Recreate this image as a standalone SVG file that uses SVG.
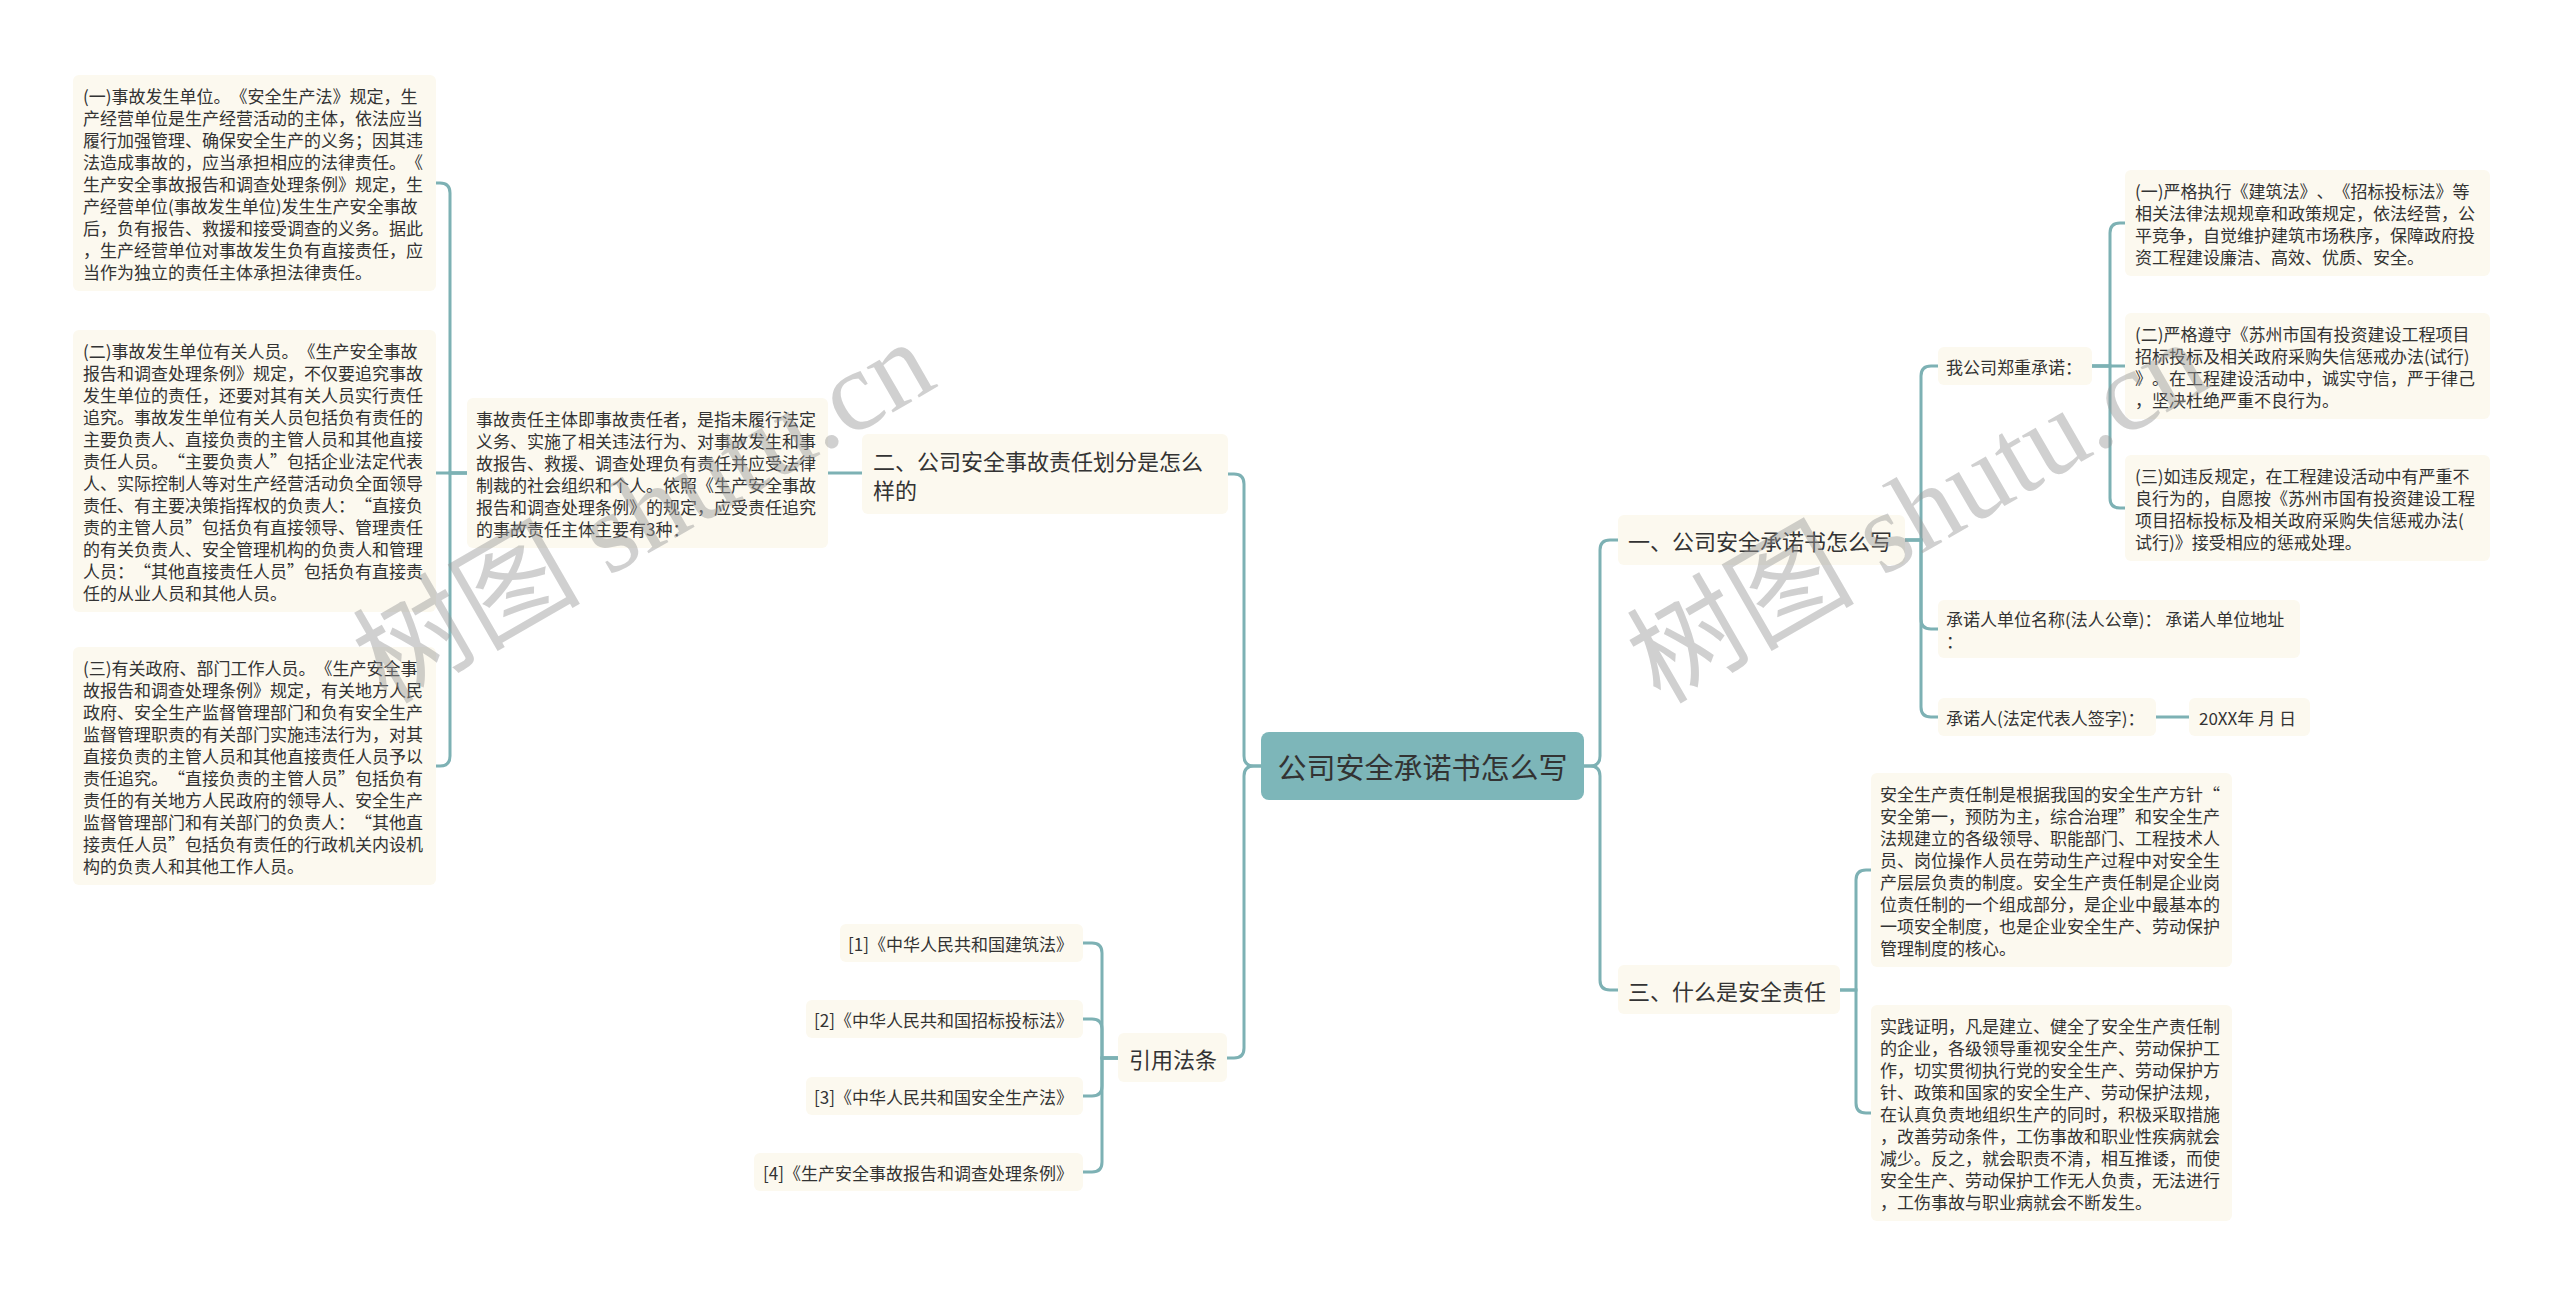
<svg xmlns="http://www.w3.org/2000/svg" width="2560" height="1295" viewBox="0 0 2560 1295">
<style>
.box{fill:#fcf9ef}
.t{font-family:"Noto Sans CJK SC","Noto Sans",sans-serif;fill:#333;dominant-baseline:central;text-spacing-trim:space-all;font-kerning:none}
.s17{font-size:17px}
.s22{font-size:22px}
.conn path{fill:none;stroke:#7db1b4;stroke-width:3;stroke-linecap:round}
.wm{font-family:"Liberation Serif","Noto Sans CJK SC",serif;font-size:114px;fill:#969696;fill-opacity:0.45}
</style>
<rect width="2560" height="1295" fill="#fff"/>
<g class="conn">
<path d="M1261,766 H1254 Q1244,766 1244,756 V484 Q1244,474 1234,474 H1228"/>
<path d="M1261,766 H1254 Q1244,766 1244,776 V1048 Q1244,1058 1234,1058 H1227"/>
<path d="M1584,766 H1590 Q1600,766 1600,756 V550 Q1600,540 1610,540 H1618"/>
<path d="M1584,766 H1590 Q1600,766 1600,776 V980 Q1600,990 1610,990 H1618"/>
<path d="M828,473 H862"/>
<path d="M467,473 H450 V193 Q450,183 440,183 H436"/>
<path d="M467,473 H436"/>
<path d="M467,473 H450 V756 Q450,766 440,766 H436"/>
<path d="M1118,1058 H1102 V953 Q1102,943 1092,943 H1083"/>
<path d="M1118,1058 H1102 V1029 Q1102,1019 1092,1019 H1083"/>
<path d="M1118,1058 H1102 V1086 Q1102,1096 1092,1096 H1083"/>
<path d="M1118,1058 H1102 V1162 Q1102,1172 1092,1172 H1083"/>
<path d="M1905,540 H1921 V376 Q1921,366 1931,366 H1938"/>
<path d="M1905,540 H1921 V619 Q1921,629 1931,629 H1938"/>
<path d="M1905,540 H1921 V707 Q1921,717 1931,717 H1938"/>
<path d="M2092,366 H2110 V233 Q2110,223 2120,223 H2125"/>
<path d="M2092,366 H2125"/>
<path d="M2092,366 H2110 V498 Q2110,508 2120,508 H2125"/>
<path d="M2156,717 H2189"/>
<path d="M1840,990 H1856 V880 Q1856,870 1866,870 H1871"/>
<path d="M1840,990 H1856 V1103 Q1856,1113 1866,1113 H1871"/>
</g>
<g id="center">
<rect x="1261" y="732" width="323" height="68" rx="8" fill="#7db6b9"/>
<text class="t" x="1422.5" y="766" font-size="29" text-anchor="middle" fill="#2a2a2a">公司安全承诺书怎么写</text>
</g>
<g id="n2">
<rect class="box" x="862" y="434" width="366" height="80" rx="6"/>
<text class="t s22"><tspan x="873" y="459.5">二、公司安全事故责任划分是怎么</tspan><tspan x="873" y="488.5">样的</tspan></text>
</g>
<g id="n2-desc">
<rect class="box" x="467" y="398" width="361" height="150" rx="6"/>
<text class="t s17"><tspan x="476" y="418">事故责任主体即事故责任者，是指未履行法定</tspan><tspan x="476" y="440">义务、实施了相关违法行为、对事故发生和事</tspan><tspan x="476" y="462">故报告、救援、调查处理负有责任并应受法律</tspan><tspan x="476" y="484">制裁的社会组织和个人。依照《生产安全事故</tspan><tspan x="476" y="506">报告和调查处理条例》的规定，应受责任追究</tspan><tspan x="476" y="528">的事故责任主体主要有3种：</tspan></text>
</g>
<g id="l1">
<rect class="box" x="73" y="75" width="363" height="216" rx="6"/>
<text class="t s17"><tspan x="83" y="95">(一)事故发生单位。《安全生产法》规定，生</tspan><tspan x="83" y="117">产经营单位是生产经营活动的主体，依法应当</tspan><tspan x="83" y="139">履行加强管理、确保安全生产的义务；因其违</tspan><tspan x="83" y="161">法造成事故的，应当承担相应的法律责任。《</tspan><tspan x="83" y="183">生产安全事故报告和调查处理条例》规定，生</tspan><tspan x="83" y="205">产经营单位(事故发生单位)发生生产安全事故</tspan><tspan x="83" y="227">后，负有报告、救援和接受调查的义务。据此</tspan><tspan x="83" y="249">，生产经营单位对事故发生负有直接责任，应</tspan><tspan x="83" y="271">当作为独立的责任主体承担法律责任。</tspan></text>
</g>
<g id="l2">
<rect class="box" x="73" y="330" width="363" height="282" rx="6"/>
<text class="t s17"><tspan x="83" y="350">(二)事故发生单位有关人员。《生产安全事故</tspan><tspan x="83" y="372">报告和调查处理条例》规定，不仅要追究事故</tspan><tspan x="83" y="394">发生单位的责任，还要对其有关人员实行责任</tspan><tspan x="83" y="416">追究。事故发生单位有关人员包括负有责任的</tspan><tspan x="83" y="438">主要负责人、直接负责的主管人员和其他直接</tspan><tspan x="83" y="460">责任人员。“主要负责人”包括企业法定代表</tspan><tspan x="83" y="482">人、实际控制人等对生产经营活动负全面领导</tspan><tspan x="83" y="504">责任、有主要决策指挥权的负责人：“直接负</tspan><tspan x="83" y="526">责的主管人员”包括负有直接领导、管理责任</tspan><tspan x="83" y="548">的有关负责人、安全管理机构的负责人和管理</tspan><tspan x="83" y="570">人员：“其他直接责任人员”包括负有直接责</tspan><tspan x="83" y="592">任的从业人员和其他人员。</tspan></text>
</g>
<g id="l3">
<rect class="box" x="73" y="647" width="363" height="238" rx="6"/>
<text class="t s17"><tspan x="83" y="667">(三)有关政府、部门工作人员。《生产安全事</tspan><tspan x="83" y="689">故报告和调查处理条例》规定，有关地方人民</tspan><tspan x="83" y="711">政府、安全生产监督管理部门和负有安全生产</tspan><tspan x="83" y="733">监督管理职责的有关部门实施违法行为，对其</tspan><tspan x="83" y="755">直接负责的主管人员和其他直接责任人员予以</tspan><tspan x="83" y="777">责任追究。“直接负责的主管人员”包括负有</tspan><tspan x="83" y="799">责任的有关地方人民政府的领导人、安全生产</tspan><tspan x="83" y="821">监督管理部门和有关部门的负责人：“其他直</tspan><tspan x="83" y="843">接责任人员”包括负有责任的行政机关内设机</tspan><tspan x="83" y="865">构的负责人和其他工作人员。</tspan></text>
</g>
<g id="cite">
<rect class="box" x="1118" y="1033" width="109" height="49" rx="6"/>
<text class="t s22" x="1129" y="1058">引用法条</text>
</g>
<g id="cite1">
<rect class="box" x="840" y="924" width="243" height="38" rx="6"/>
<text class="t s17" x="1073" y="943" text-anchor="end">[1]《中华人民共和国建筑法》</text>
</g>
<g id="cite2">
<rect class="box" x="806" y="1000" width="277" height="38" rx="6"/>
<text class="t s17" x="1073" y="1019" text-anchor="end">[2]《中华人民共和国招标投标法》</text>
</g>
<g id="cite3">
<rect class="box" x="806" y="1077" width="277" height="38" rx="6"/>
<text class="t s17" x="1073" y="1096" text-anchor="end">[3]《中华人民共和国安全生产法》</text>
</g>
<g id="cite4">
<rect class="box" x="754" y="1153" width="329" height="38" rx="6"/>
<text class="t s17" x="1073" y="1172" text-anchor="end">[4]《生产安全事故报告和调查处理条例》</text>
</g>
<g id="n1">
<rect class="box" x="1618" y="515" width="287" height="50" rx="6"/>
<text class="t s22" x="1628" y="540">一、公司安全承诺书怎么写</text>
</g>
<g id="promise">
<rect class="box" x="1938" y="347" width="154" height="38" rx="6"/>
<text class="t s17" x="1946" y="366">我公司郑重承诺：</text>
</g>
<g id="r1">
<rect class="box" x="2125" y="170" width="365" height="106" rx="6"/>
<text class="t s17"><tspan x="2135" y="190">(一)严格执行《建筑法》、《招标投标法》等</tspan><tspan x="2135" y="212">相关法律法规规章和政策规定，依法经营，公</tspan><tspan x="2135" y="234">平竞争，自觉维护建筑市场秩序，保障政府投</tspan><tspan x="2135" y="256">资工程建设廉洁、高效、优质、安全。</tspan></text>
</g>
<g id="r2">
<rect class="box" x="2125" y="313" width="365" height="106" rx="6"/>
<text class="t s17"><tspan x="2135" y="333">(二)严格遵守《苏州市国有投资建设工程项目</tspan><tspan x="2135" y="355">招标投标及相关政府采购失信惩戒办法(试行)</tspan><tspan x="2135" y="377">》。在工程建设活动中，诚实守信，严于律己</tspan><tspan x="2135" y="399">，坚决杜绝严重不良行为。</tspan></text>
</g>
<g id="r3">
<rect class="box" x="2125" y="455" width="365" height="106" rx="6"/>
<text class="t s17"><tspan x="2135" y="475">(三)如违反规定，在工程建设活动中有严重不</tspan><tspan x="2135" y="497">良行为的，自愿按《苏州市国有投资建设工程</tspan><tspan x="2135" y="519">项目招标投标及相关政府采购失信惩戒办法(</tspan><tspan x="2135" y="541">试行)》接受相应的惩戒处理。</tspan></text>
</g>
<g id="unit">
<rect class="box" x="1938" y="600" width="362" height="58" rx="6"/>
<text class="t s17"><tspan x="1946" y="618">承诺人单位名称(法人公章)：  承诺人单位地址</tspan><tspan x="1946" y="640">：</tspan></text>
</g>
<g id="sign">
<rect class="box" x="1938" y="698" width="218" height="38" rx="6"/>
<text class="t s17" x="1946" y="717">承诺人(法定代表人签字)：</text>
</g>
<g id="date">
<rect class="box" x="2189" y="698" width="121" height="38" rx="6"/>
<text class="t s17" x="2199" y="717">20XX年 月 日</text>
</g>
<g id="n3">
<rect class="box" x="1618" y="965" width="222" height="49" rx="6"/>
<text class="t s22" x="1628" y="990">三、什么是安全责任</text>
</g>
<g id="a">
<rect class="box" x="1871" y="773" width="361" height="194" rx="6"/>
<text class="t s17"><tspan x="1880" y="793">安全生产责任制是根据我国的安全生产方针“</tspan><tspan x="1880" y="815">安全第一，预防为主，综合治理”和安全生产</tspan><tspan x="1880" y="837">法规建立的各级领导、职能部门、工程技术人</tspan><tspan x="1880" y="859">员、岗位操作人员在劳动生产过程中对安全生</tspan><tspan x="1880" y="881">产层层负责的制度。安全生产责任制是企业岗</tspan><tspan x="1880" y="903">位责任制的一个组成部分，是企业中最基本的</tspan><tspan x="1880" y="925">一项安全制度，也是企业安全生产、劳动保护</tspan><tspan x="1880" y="947">管理制度的核心。</tspan></text>
</g>
<g id="b">
<rect class="box" x="1871" y="1005" width="361" height="216" rx="6"/>
<text class="t s17"><tspan x="1880" y="1025">实践证明，凡是建立、健全了安全生产责任制</tspan><tspan x="1880" y="1047">的企业，各级领导重视安全生产、劳动保护工</tspan><tspan x="1880" y="1069">作，切实贯彻执行党的安全生产、劳动保护方</tspan><tspan x="1880" y="1091">针、政策和国家的安全生产、劳动保护法规，</tspan><tspan x="1880" y="1113">在认真负责地组织生产的同时，积极采取措施</tspan><tspan x="1880" y="1135">，改善劳动条件，工伤事故和职业性疾病就会</tspan><tspan x="1880" y="1157">减少。反之，就会职责不清，相互推诿，而使</tspan><tspan x="1880" y="1179">安全生产、劳动保护工作无人负责，无法进行</tspan><tspan x="1880" y="1201">，工伤事故与职业病就会不断发生。</tspan></text>
</g>
<g id="watermark">
<text class="wm" transform="translate(386,705) rotate(-30)">树图 shutu.cn</text>
<text class="wm" transform="translate(1660,705) rotate(-30)">树图 shutu.cn</text>
</g>
</svg>
